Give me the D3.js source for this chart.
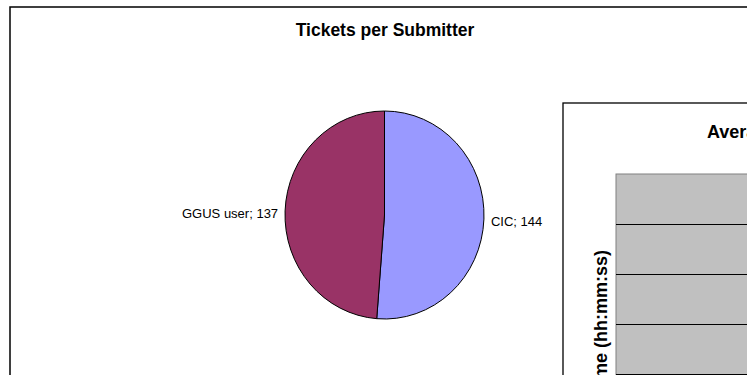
<!DOCTYPE html>
<html>
<head>
<meta charset="utf-8">
<script src="https://cdn.jsdelivr.net/npm/d3@7"></script>
<style>
  body { margin: 0; background: #fff; }
  svg { display: block; font-family: "Liberation Sans", Arial, sans-serif; }
</style>
</head>
<body>
<div id="chart"></div>
<script>
// pie data
const categories = ["CIC", "GGUS user"];
const tickets = [144, 137];
const sliceColors = ["#9999ff", "#993366"];

// second (partly hidden) chart: gridline values in hours
const hourTicks = [0, 1, 2, 3, 4, 5, 6, 7, 8];

const width = 747;
const height = 375;

const svg = d3.select("#chart")
  .append("svg")
  .attr("width", width)
  .attr("height", height);

// outer frame of the pie chart
svg.append("rect")
  .attr("x", 10)
  .attr("y", 7)
  .attr("width", 900)
  .attr("height", 500)
  .attr("fill", "#fff")
  .attr("stroke", "#000")
  .attr("stroke-width", 1.5);

svg.append("text")
  .attr("x", 385)
  .attr("y", 36)
  .attr("text-anchor", "middle")
  .attr("font-size", 17.5)
  .attr("font-weight", "bold")
  .text("Tickets per Submitter");

const cx = 384.5, cy = 215, r = 100;
const sx = 0.995, sy = 1.04;

const pie = d3.pie().sort(null).value(d => d.value);
const arcs = pie(categories.map((c, i) => ({ name: c, value: tickets[i] })));
const arc = d3.arc().innerRadius(0).outerRadius(r);

const g = svg.append("g")
  .attr("transform", `translate(${cx},${cy}) scale(${sx},${sy})`);

g.selectAll("path")
  .data(arcs)
  .enter()
  .append("path")
  .attr("d", arc)
  .attr("fill", (d, i) => sliceColors[i])
  .attr("stroke", "#000")
  .attr("stroke-width", 1)
  .attr("vector-effect", "non-scaling-stroke");

// labels outside each slice
svg.selectAll("text.lbl")
  .data(arcs)
  .enter()
  .append("text")
  .attr("class", "lbl")
  .attr("font-size", 13)
  .attr("x", d => {
    const a = (d.startAngle + d.endAngle) / 2;
    return cx + (r + 7) * Math.sin(a) * sx;
  })
  .attr("y", d => {
    const a = (d.startAngle + d.endAngle) / 2;
    return cy - (r + 7) * Math.cos(a) * sy + 7;
  })
  .attr("text-anchor", d => ((d.startAngle + d.endAngle) / 2 > Math.PI ? "end" : "start"))
  .text(d => d.data.name + "; " + d.data.value);

// second chart overlapping on the right
const fx = 563, fy = 103;
svg.append("rect")
  .attr("x", fx)
  .attr("y", fy)
  .attr("width", 400)
  .attr("height", 400)
  .attr("fill", "#fff")
  .attr("stroke", "#000")
  .attr("stroke-width", 1.3);

svg.append("text")
  .attr("x", 707)
  .attr("y", 138)
  .attr("font-size", 18)
  .attr("font-weight", "bold")
  .text("Average Response Time");

const plotLeft = 616, plotTop = 174;
const yScale = d3.scaleLinear()
  .domain([0, d3.max(hourTicks)])
  .range([plotTop + 400, plotTop]);

svg.append("rect")
  .attr("x", plotLeft)
  .attr("y", plotTop)
  .attr("width", 300)
  .attr("height", 400)
  .attr("fill", "#c0c0c0")
  .attr("stroke", "#808080")
  .attr("stroke-width", 1);

svg.selectAll("line.grid")
  .data(hourTicks.slice(0, -1))
  .enter()
  .append("line")
  .attr("class", "grid")
  .attr("x1", plotLeft)
  .attr("x2", width)
  .attr("y1", d => Math.round(yScale(d)) + 0.5)
  .attr("y2", d => Math.round(yScale(d)) + 0.5)
  .attr("stroke", "#000")
  .attr("stroke-width", 1);

svg.append("text")
  .attr("transform", "translate(606.5,250) rotate(-90)")
  .attr("text-anchor", "end")
  .attr("font-size", 18)
  .attr("font-weight", "bold")
  .text("Average Time (hh:mm:ss)");
</script>
</body>
</html>
